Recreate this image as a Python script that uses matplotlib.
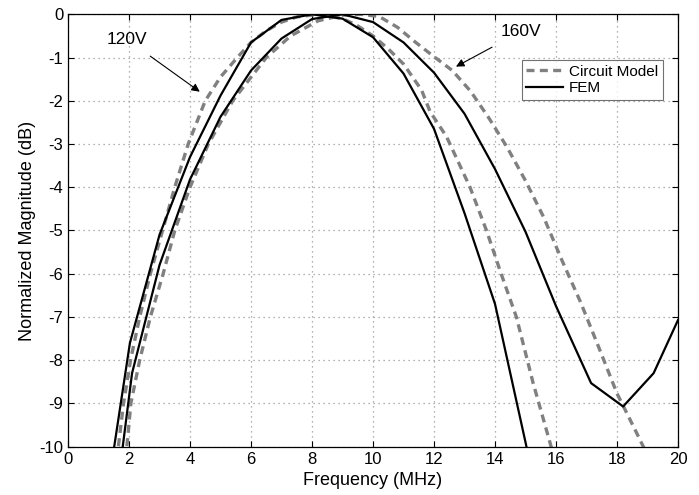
import matplotlib
matplotlib.use("Agg")
from matplotlib import pyplot as plt

plt.rcParams["font.family"] = ["Liberation Sans", "DejaVu Sans"]
plt.rcParams["axes.unicode_minus"] = False

# FEM, 120 V (solid)
fem120_f = [1.45, 2.03, 3.0, 4.0, 5.0, 6.0, 7.0, 8.0, 9.0, 10.0, 11.0, 12.0, 13.0, 14.0, 15.0, 15.3]
fem120_db = [-10.3, -7.6, -5.1, -3.3, -1.88, -0.65, -0.13, 0.0, -0.1, -0.53, -1.37, -2.65, -4.6, -6.7, -9.9, -10.9]

# FEM, 160 V (solid)
fem160_f = [1.74, 2.1, 3.0, 4.0, 5.0, 6.0, 7.0, 8.0, 9.0, 10.0, 11.0, 12.0, 13.0, 14.0, 15.0, 16.0, 17.15, 18.2, 19.2, 20.0]
fem160_db = [-10.3, -8.3, -5.8, -3.82, -2.37, -1.3, -0.56, -0.11, 0.0, -0.18, -0.65, -1.35, -2.3, -3.58, -5.03, -6.75, -8.53, -9.07, -8.3, -7.07]

# circuit model, 120 V (dashed)
circ120_f = [1.55, 1.65, 1.82, 2.05, 2.35, 2.7, 3.1, 3.5, 3.94, 4.5, 5.0, 5.55, 6.0, 6.5, 7.0, 7.5, 8.2, 9.0, 9.46,
             10.0, 10.5, 11.0, 11.59, 11.87, 12.41, 13.18, 13.72, 14.2, 14.7, 15.25, 15.8, 16.0]
circ120_db = [-10.6, -10.0, -9.0, -8.0, -7.0, -6.0, -5.0, -4.0, -3.0, -2.0, -1.45, -1.0, -0.65, -0.38, -0.18, -0.06, 0.0,
              -0.1, -0.25, -0.5, -0.8, -1.15, -1.75, -2.25, -2.83, -4.0, -5.0, -6.0, -7.0, -8.53, -9.9, -10.4]

# circuit model, 160 V (dashed)
circ160_f = [1.85, 1.93, 2.06, 2.35, 2.7, 3.12, 3.5, 4.0, 4.6, 5.4, 6.5, 7.3, 8.2, 9.0, 9.6, 10.2, 10.8, 11.4, 12.0,
             12.6, 13.2, 13.8, 14.4, 15.0, 15.6, 16.2, 16.8, 17.4, 18.0, 18.6, 19.0]
circ160_db = [-10.6, -10.0, -9.0, -8.0, -7.0, -6.0, -5.0, -4.0, -3.0, -2.0, -1.0, -0.5, -0.15, -0.02, 0.0, -0.05, -0.3,
              -0.65, -0.98, -1.3, -1.78, -2.4, -3.08, -3.85, -4.7, -5.7, -6.65, -7.7, -8.77, -9.62, -10.2]

x_ticks = list(range(0, 21, 2))
y_ticks = list(range(-10, 1))

fig = plt.figure(figsize=(6.99, 4.95), dpi=100)
ax = fig.add_axes([0.0973, 0.0976, 0.8727, 0.8735])

dash_kw = dict(color="0.5", lw=2.4, dashes=(2.4, 1.6))
solid_kw = dict(color="black", lw=1.6)

ax.plot(circ120_f, circ120_db, label="Circuit Model", **dash_kw)
ax.plot(circ160_f, circ160_db, **dash_kw)
ax.plot(fem120_f, fem120_db, label="FEM", **solid_kw)
ax.plot(fem160_f, fem160_db, **solid_kw)

ax.set_xlim(0, 20)
ax.set_ylim(-10, 0)
ax.set_xticks(x_ticks)
ax.set_yticks(y_ticks)
ax.tick_params(direction="in", top=True, right=True, labelsize=12, length=4, width=0.8)
ax.grid(True, color="0.6", linestyle=(0, (1, 3)), linewidth=0.9)
for s in ax.spines.values():
    s.set_linewidth(0.9)

ax.set_xlabel("Frequency (MHz)", fontsize=13, labelpad=4)
ax.set_ylabel("Normalized Magnitude (dB)", fontsize=13, labelpad=2)

arrow = dict(arrowstyle="-|>", color="black", lw=0.8, mutation_scale=12)
ax.annotate("120V", xy=(4.32, -1.79), xytext=(1.93, -0.58), fontsize=12.5,
            ha="center", va="center", arrowprops=dict(**arrow, shrinkA=8, shrinkB=0))
ax.annotate("160V", xy=(12.72, -1.21), xytext=(14.85, -0.40), fontsize=12.5,
            ha="center", va="center", arrowprops=dict(**arrow, shrinkA=8, shrinkB=0))

leg = ax.legend(loc="upper right", bbox_to_anchor=(0.975, 0.894), borderaxespad=0, fontsize=11,
                frameon=True, fancybox=False, edgecolor="0.3", handlelength=2.4, handletextpad=0.4,
                borderpad=0.3, labelspacing=0.15)
leg.get_frame().set_linewidth(0.8)

fig.savefig("out.png", dpi=100)
